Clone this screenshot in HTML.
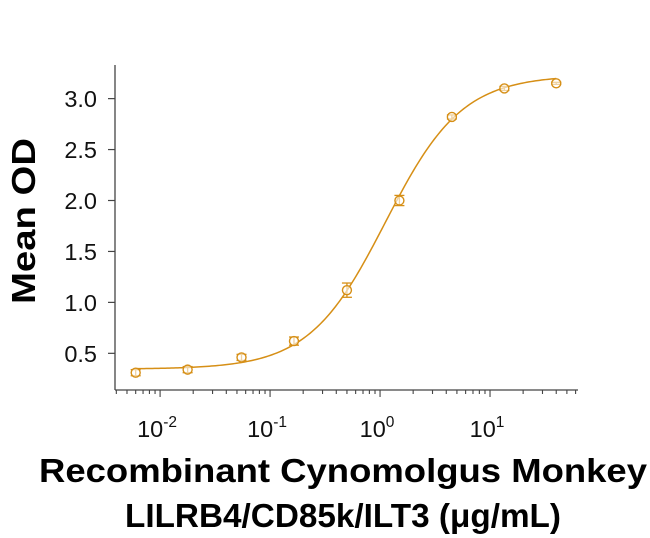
<!DOCTYPE html>
<html><head><meta charset="utf-8"><style>
html,body{margin:0;padding:0;background:#fff;}
svg{display:block;font-family:"Liberation Sans",Arial,sans-serif;}
</style></head><body>
<svg id="chart" width="650" height="538" viewBox="0 0 650 538">
<g id="axes"></g><g id="marks"></g>
<text x="0" y="0" transform="translate(35,221) rotate(-90)" text-anchor="middle" font-size="33" font-weight="bold" textLength="166" lengthAdjust="spacingAndGlyphs">Mean OD</text>
<text x="343" y="482" text-anchor="middle" font-size="33" font-weight="bold" textLength="608" lengthAdjust="spacingAndGlyphs">Recombinant Cynomolgus Monkey</text>
<text x="343" y="527" text-anchor="middle" font-size="33" font-weight="bold" textLength="436" lengthAdjust="spacingAndGlyphs">LILRB4/CD85k/ILT3 (μg/mL)</text>
</svg>
<script>
const concentrations=[0.006,0.0178,0.055,0.165,0.5,1.5,4.5,13.5,40];
const meanOD=[0.31,0.34,0.46,0.62,1.12,2.0,2.82,3.10,3.15];
const errorOD=[0.03,0.03,0.03,0.04,0.07,0.05,0.02,0.02,0.01];
const fitParams=[0.345,3.23,1.12,1.25]; // bottom, top, EC50, hill
const yTicks=[0.5,1.0,1.5,2.0,2.5,3.0];
const yTickLabels=["0.5","1.0","1.5","2.0","2.5","3.0"];
const xDecades=[-2,-1,0,1];

const NS="http://www.w3.org/2000/svg";
const X0=115,X1=578,Y0=390,Y1=65;
const LMIN=-2.41,LMAX=1.80,VMIN=0.14,VMAX=3.33;
function xs(v){return X0+(Math.log10(v)-LMIN)/(LMAX-LMIN)*(X1-X0);}
function ys(v){return Y0-(v-VMIN)/(VMAX-VMIN)*(Y0-Y1);}
function mk(tag,attrs,parent){const e=document.createElementNS(NS,tag);for(const k in attrs)e.setAttribute(k,attrs[k]);parent.appendChild(e);return e;}
const axes=document.getElementById('axes'),marks=document.getElementById('marks');
const col="#d68f16";
let e=mk('line',{x1:X0,y1:Y1,x2:X0,y2:Y0,stroke:'#444','stroke-width':1.3},axes);


e=mk('line',{x1:X0,y1:Y0,x2:X1,y2:Y0,stroke:'#444','stroke-width':1.3},axes);


yTicks.forEach((t,i)=>{
  const y=ys(t);
  let l=mk('line',{x1:X0-7,y1:y,x2:X0,y2:y,stroke:'#444','stroke-width':1.2},axes);
  
  
  let tx=mk('text',{x:97,y:y+8.5,'text-anchor':'end','font-size':23.5,fill:'#111'},axes);
  tx.textContent=yTickLabels[i];
  
  
});
for(let d=-3;d<=1;d++){for(let m=1;m<10;m++){
  const v=m*Math.pow(10,d);const x=xs(v);
  if(x<X0||x>X1)continue;
  let l=mk('line',{x1:x,y1:Y0,x2:x,y2:Y0+(m===1?7:4),stroke:'#444','stroke-width':1.1},axes);
  
  
}}
xDecades.forEach(d=>{
  const x=xs(Math.pow(10,d));
  let tx=mk('text',{x:x-3,y:437,'text-anchor':'middle','font-size':23.5,fill:'#111'},axes);
  tx.textContent='10';
  let sp=mk('tspan',{dy:-10,'font-size':15.5},tx);
  sp.textContent=String(d);
  
  
});
let pts=[];
for(let i=0;i<=200;i++){
  const lv=Math.log10(0.006)+i/200*(Math.log10(40)-Math.log10(0.006));
  const v=Math.pow(10,lv);
  const [b,t,c,h]=fitParams;
  const yv=b+(t-b)/(1+Math.pow(c/v,h));
  pts.push(xs(v).toFixed(2)+','+ys(yv).toFixed(2));
}
e=mk('polyline',{points:pts.join(' '),fill:'none',stroke:col,'stroke-width':1.5},marks);


concentrations.forEach((c,i)=>{
  const x=xs(c),y=ys(meanOD[i]),yt=ys(meanOD[i]+errorOD[i]),yb=ys(meanOD[i]-errorOD[i]);
  const g=mk('g',{},marks);
  
  
  mk('line',{x1:x,y1:yt,x2:x,y2:yb,stroke:col,'stroke-width':1.3},g);
  mk('line',{x1:x-5,y1:yt,x2:x+5,y2:yt,stroke:col,'stroke-width':1.3},g);
  mk('line',{x1:x-5,y1:yb,x2:x+5,y2:yb,stroke:col,'stroke-width':1.3},g);
  mk('circle',{cx:x,cy:y,r:4.5,fill:'#fff','fill-opacity':0.6,stroke:col,'stroke-width':1.4},g);
});
</script>
</body></html>
